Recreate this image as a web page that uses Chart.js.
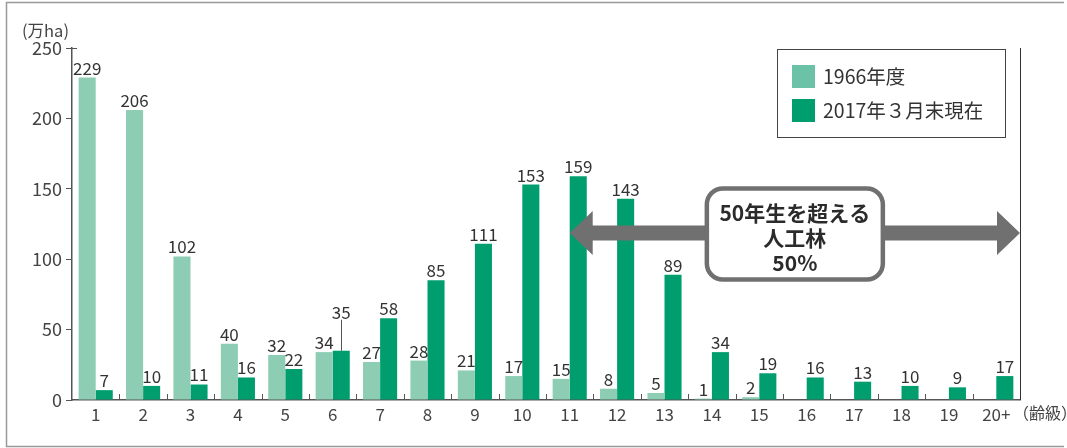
<!DOCTYPE html>
<html>
<head>
<meta charset="utf-8">
<script src="https://cdn.jsdelivr.net/npm/chart.js@4"></script>
<style>
  html, body { margin: 0; padding: 0; background: #fff; }
  #wrap { width: 1067px; height: 448px; position: relative; }
</style>
</head>
<body>
<div id="wrap"><canvas id="forestChart" width="1067" height="448"></canvas></div>
<script>
// 齢級 (age class) categories
const ageClasses = ['1', '2', '3', '4', '5', '6', '7', '8', '9', '10', '11', '12', '13', '14', '15', '16', '17', '18', '19', '20+'];

// 人工林面積 (万ha)
const area1966 = [229, 206, 102, 40, 32, 34, 27, 28, 21, 17, 15, 8, 5, 1, 2, null, null, null, null, null];
const area2017 = [7, 10, 11, 16, 22, 35, 58, 85, 111, 153, 159, 143, 89, 34, 19, 16, 13, 10, 9, 17];

const seriesNames = ['1966年度', '2017年３月末現在'];
const yTicks = [0, 50, 100, 150, 200, 250];

// annotation: share of planted forest older than 50 years
const overLabel = ['50年生を超える', '人工林', '50%'];
const overFromIndex = 10;   // starts at age class 11
const overLevel = 118.6;    // height of the arrow in 万ha

const FONT = '"Noto Sans CJK JP", "Noto Sans", sans-serif';
const LIGHT = '#8ccdb4';
const DARK = '#009e6e';
const AXIS = '#555';

const decorPlugin = {
    id: 'decor',
    afterDatasetsDraw(chart) {
        const c = chart.ctx;
        const a = chart.chartArea;
        const xs = chart.scales.x;
        const ys = chart.scales.y;
        const step = xs.getPixelForValue(1) - xs.getPixelForValue(0);

        c.save();
        // inward ticks between categories
        c.strokeStyle = AXIS;
        c.lineWidth = 1;
        for (let i = 1; i < ageClasses.length; i++) {
            const px = Math.round(xs.getPixelForValue(i) - step / 2) + 0.5;
            c.beginPath();
            c.moveTo(px, a.bottom);
            c.lineTo(px, a.bottom - 6);
            c.stroke();
        }
        // right boundary line
        c.strokeStyle = '#333';
        c.beginPath();
        c.moveTo(Math.round(a.right) + 0.5, a.top);
        c.lineTo(Math.round(a.right) + 0.5, a.bottom);
        c.stroke();
        // small hook at top of y axis
        c.strokeStyle = AXIS;
        c.beginPath();
        c.moveTo(a.left, a.top + 0.5);
        c.lineTo(a.left + 5, a.top + 0.5);
        c.stroke();

        // value labels
        c.font = '17px ' + FONT;
        c.fillStyle = '#333';
        c.textAlign = 'center';
        c.textBaseline = 'bottom';
        chart.data.datasets.forEach((ds, di) => {
            const meta = chart.getDatasetMeta(di);
            meta.data.forEach((bar, i) => {
                const v = ds.data[i];
                if (v === null || v === undefined) return;
                let ty = bar.y - 1;
                if (di === 1 && i === 5) {
                    // raised label with leader line
                    ty = bar.y - 30;
                    c.beginPath();
                    c.moveTo(Math.round(bar.x) + 0.5, bar.y);
                    c.lineTo(Math.round(bar.x) + 0.5, ty - 1);
                    c.stroke();
                }
                c.fillText(String(v), bar.x, ty);
            });
        });

        // double-headed arrow
        const x0 = xs.getPixelForValue(overFromIndex);
        const x1 = a.right;
        const yc = ys.getPixelForValue(overLevel);
        const head = 23, hh = 22, sh = 7.5;
        c.fillStyle = '#707070';
        c.beginPath();
        c.moveTo(x0, yc);
        c.lineTo(x0 + head, yc - hh);
        c.lineTo(x0 + head, yc - sh);
        c.lineTo(x1 - head, yc - sh);
        c.lineTo(x1 - head, yc - hh);
        c.lineTo(x1, yc);
        c.lineTo(x1 - head, yc + hh);
        c.lineTo(x1 - head, yc + sh);
        c.lineTo(x0 + head, yc + sh);
        c.lineTo(x0 + head, yc + hh);
        c.closePath();
        c.fill();

        // rounded box
        const cx = (x0 + x1) / 2;
        const bw = 176, bh = 91;
        c.beginPath();
        c.roundRect(cx - bw / 2, yc - bh / 2 + 1, bw, bh, 16);
        c.fillStyle = '#fff';
        c.fill();
        c.lineWidth = 4.5;
        c.strokeStyle = '#707070';
        c.stroke();

        c.fillStyle = '#2b2b2b';
        c.font = 'bold 21px ' + FONT;
        c.textBaseline = 'middle';
        overLabel.forEach((t, k) => {
            c.fillText(t, cx, yc - 20 + k * 25);
        });

        // legend box
        c.lineWidth = 1;
        c.strokeStyle = '#444';
        c.strokeRect(777.5, 49.5, 228, 88);
        const legCols = ['#6cc2a6', DARK];
        c.font = '19.5px ' + FONT;
        c.textAlign = 'left';
        seriesNames.forEach((n, k) => {
            c.fillStyle = legCols[k];
            c.fillRect(792, 65 + k * 34, 23, 23);
            c.fillStyle = '#333';
            c.fillText(n, 823, 77 + k * 34);
        });

        // axis titles
        c.fillStyle = '#444';
        c.font = '16.5px ' + FONT;
        c.fillText('(万ha)', 22, 31);
        c.font = '16px ' + FONT;
        c.fillText('（齢級）', 1013, 413);

        // outer frame
        c.strokeStyle = '#999';
        c.lineWidth = 1.5;
        c.beginPath();
        c.moveTo(1064, 2.5);
        c.lineTo(6.5, 2.5);
        c.lineTo(6.5, 446.5);
        c.lineTo(1064, 446.5);
        c.stroke();
        c.restore();
    }
};

const ctx = document.getElementById('forestChart');
new Chart(ctx, {
    type: 'bar',
    data: {
        labels: ageClasses,
        datasets: [
            { label: seriesNames[0], data: area1966, backgroundColor: LIGHT },
            { label: seriesNames[1], data: area2017, backgroundColor: DARK }
        ]
    },
    options: {
        responsive: false,
        animation: false,
        devicePixelRatio: 1,
        layout: { padding: { left: 0, right: 47, top: 48, bottom: 0 } },
        datasets: { bar: { categoryPercentage: 0.72, barPercentage: 1.0 } },
        plugins: {
            legend: { display: false },
            tooltip: { enabled: false }
        },
        scales: {
            x: {
                offset: true,
                grid: { display: false, drawTicks: false },
                border: { display: true, color: AXIS, width: 1.5 },
                ticks: { color: '#444', font: { family: FONT, size: 17 }, padding: 4, maxRotation: 0, autoSkip: false },
                afterFit(scale) { scale.height = 48; }
            },
            y: {
                min: 0,
                max: 250,
                afterBuildTicks(scale) { scale.ticks = yTicks.map(v => ({ value: v })); },
                grid: { drawOnChartArea: false, drawTicks: true, tickLength: 6, color: AXIS },
                border: { display: true, color: AXIS, width: 1.5 },
                ticks: { color: '#444', font: { family: FONT, size: 18 }, padding: 4 },
                afterFit(scale) { scale.width = 72; }
            }
        }
    },
    plugins: [decorPlugin]
});
</script>
</body>
</html>
